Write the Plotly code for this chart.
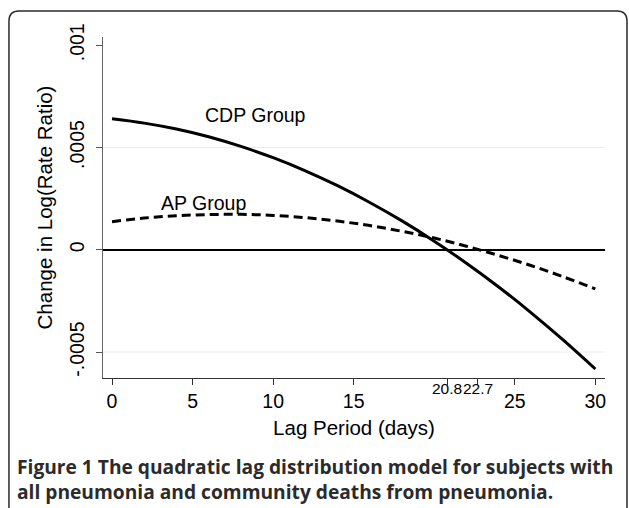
import plotly.graph_objects as go

# Data (values in log rate ratio units)
lag_days = [0, 2, 4, 6, 8, 10, 12, 14, 16, 18, 20, 22, 24, 26, 28, 30]
cdp_group = [0.000640, 0.000619, 0.000590, 0.000552, 0.000505, 0.000450, 0.000386, 0.000313,
             0.000231, 0.000141, 0.000042, -0.000066, -0.000182, -0.000307, -0.000441, -0.000583]
ap_group = [0.000137, 0.000155, 0.000166, 0.000172, 0.000173, 0.000168, 0.000157, 0.000140,
            0.000118, 0.000090, 0.000057, 0.000017, -0.000028, -0.000077, -0.000132, -0.000191]

x_ticks = [0, 5, 10, 15, 25, 30]
x_special_ticks = [20.8, 22.7]
x_special_labels = ["20.8", "22.7"]
y_ticks = [-0.0005, 0, 0.0005, 0.001]
y_tick_labels = ["-.0005", "0", ".0005", ".001"]
grid_vals = [-0.0005, 0.0005]

FONT = "Liberation Sans, Arial, Helvetica, sans-serif"

fig = go.Figure()
fig.add_trace(go.Scatter(x=lag_days, y=cdp_group, mode="lines", line_shape="spline",
                         line=dict(color="black", width=3), name="CDP Group", showlegend=False))
fig.add_trace(go.Scatter(x=lag_days, y=ap_group, mode="lines", line_shape="spline",
                         line=dict(color="black", width=3, dash="9px,5px"), name="AP Group",
                         showlegend=False))

shapes = []
for g in grid_vals:
    shapes.append(dict(type="line", xref="paper", x0=0, x1=1, yref="y", y0=g, y1=g,
                       line=dict(color="#e6eeef", width=1), layer="below"))

# rounded frame around the figure + caption
L, R, T, B = -0.1873, 1.0438, 1.0762, -0.43
rx, ry = 0.0199, 0.0293
path = (f"M {L},{B} L {L},{T-ry} Q {L},{T} {L+rx},{T} L {R-rx},{T} "
        f"Q {R},{T} {R},{T-ry} L {R},{B}")
shapes.append(dict(type="path", xref="paper", yref="paper", path=path,
                   line=dict(color="#2a2a2a", width=1.5)))

CAP_FONT = dict(family="Open Sans, sans-serif", size=19.2, color="#2b2b2b")
annotations = [
    dict(x=8.9, y=0.00066, xref="x", yref="y", text="CDP Group", showarrow=False,
         font=dict(family=FONT, size=19.5, color="black")),
    dict(x=5.65, y=0.000228, xref="x", yref="y", text="AP Group", showarrow=False,
         font=dict(family=FONT, size=19.5, color="black")),
    dict(x=-0.1753, y=-0.296, xref="paper", yref="paper", xanchor="left", yanchor="middle",
         align="left",
         text="<b>Figure 1 The quadratic lag distribution model for subjects with</b><br>"
              "<b>all pneumonia and community deaths from pneumonia.</b>",
         showarrow=False, font=CAP_FONT),
]
for v, t in zip(x_special_ticks, x_special_labels):
    annotations.append(dict(x=v, y=-0.032, xref="x", yref="paper", yanchor="middle",
                            text=t, showarrow=False,
                            font=dict(family=FONT, size=15.5, color="black")))

fig.update_layout(
    width=629, height=508,
    margin=dict(l=103, r=24, t=37, b=130),
    paper_bgcolor="white", plot_bgcolor="white",
    font=dict(family=FONT, color="black"),
    shapes=shapes, annotations=annotations,
    xaxis=dict(range=[-0.56, 30.6], tickvals=x_ticks + x_special_ticks,
               ticktext=[str(v) for v in x_ticks] + ["", ""],
               ticks="outside", ticklen=6, tickcolor="#333", tickwidth=1,
               showline=True, linecolor="#333", linewidth=1, showgrid=False, zeroline=False,
               tickfont=dict(size=19.5),
               title=dict(text="Lag Period (days)", font=dict(size=20.5), standoff=9)),
    yaxis=dict(range=[-0.000627, 0.00104], tickvals=y_ticks, ticktext=y_tick_labels,
               tickangle=-90, ticks="outside", ticklen=6, tickcolor="#555", tickwidth=1,
               showline=True, linecolor="#666", linewidth=1, showgrid=False,
               zeroline=True, zerolinecolor="black", zerolinewidth=2,
               tickfont=dict(size=19.5), ticklabelstandoff=4,
               title=dict(text="Change in Log(Rate Ratio)", font=dict(size=20.5), standoff=8)),
)

fig.write_html("out.html", config={"displayModeBar": False},
               post_script="document.body.style.margin='0';")
